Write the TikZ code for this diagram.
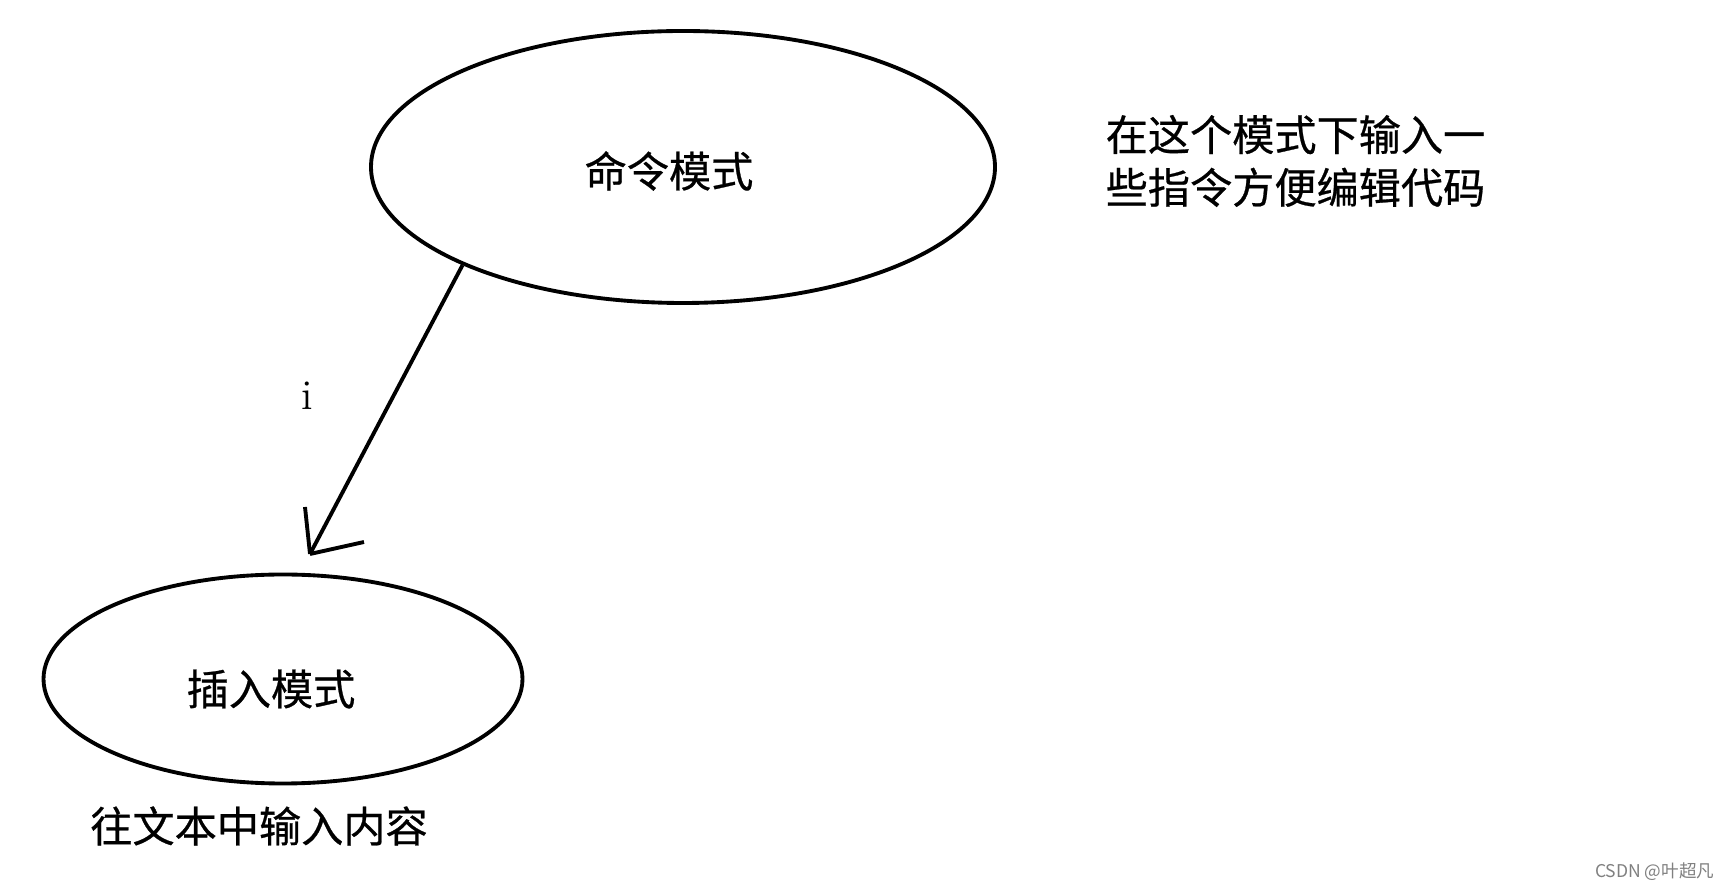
\documentclass[tikz,border=0pt]{standalone}
\usepackage{fontspec}
\newfontfamily\cjk[FakeBold=0.6]{Noto Sans CJK SC}
\newfontfamily\cjkmark{Noto Sans CJK SC}
\usetikzlibrary{shapes.geometric}

\begin{document}
\begin{tikzpicture}
      \tikzset{mode/.style={draw,
          ellipse,
          line width=1.1pt,
          inner sep=0pt},
        note/.style={inner sep=0pt,
          align=left,
          font=\cjk\fontsize{12}{15}\selectfont}
      }
      \useasboundingbox (0,0) rectangle (17.26,-8.90);
      \node [mode,minimum width=6.24cm,minimum height=2.72cm,
        label={[note,xshift=-0.14cm,yshift=-0.04cm]center:命令模式}] (cmd) at (6.83,-1.67) {}; 
      \node [mode,minimum width=4.79cm,minimum height=2.09cm,
        label={[note,xshift=-0.12cm,yshift=-0.10cm]center:插入模式}] (ins) at (2.83,-6.79) {}; 
      \node [note,anchor=west] (cmdnote) at (11.05,-1.61) {在这个模式下输入一\\些指令方便编辑代码}; 
      \node [note] (insnote) at (2.59,-8.26) {往文本中输入内容}; 
      \coordinate (tip) at (3.10,-5.54);
      \draw [line width=1.1pt] (cmd.204)--(tip);
      \draw [line width=1.1pt] (tip)--++(-0.05,0.47);
      \draw [line width=1.1pt] (tip)--++(0.54,0.12);
      \node [font=\fontsize{12}{14}\selectfont] (key) at (3.07,-3.96) {i}; 

      \node [anchor=east,text=gray,inner sep=0pt,font=\cjkmark\fontsize{5}{6}\selectfont] (mark) at (17.15,-8.72) {CSDN @叶超凡};
    \end{tikzpicture}
\end{document}
